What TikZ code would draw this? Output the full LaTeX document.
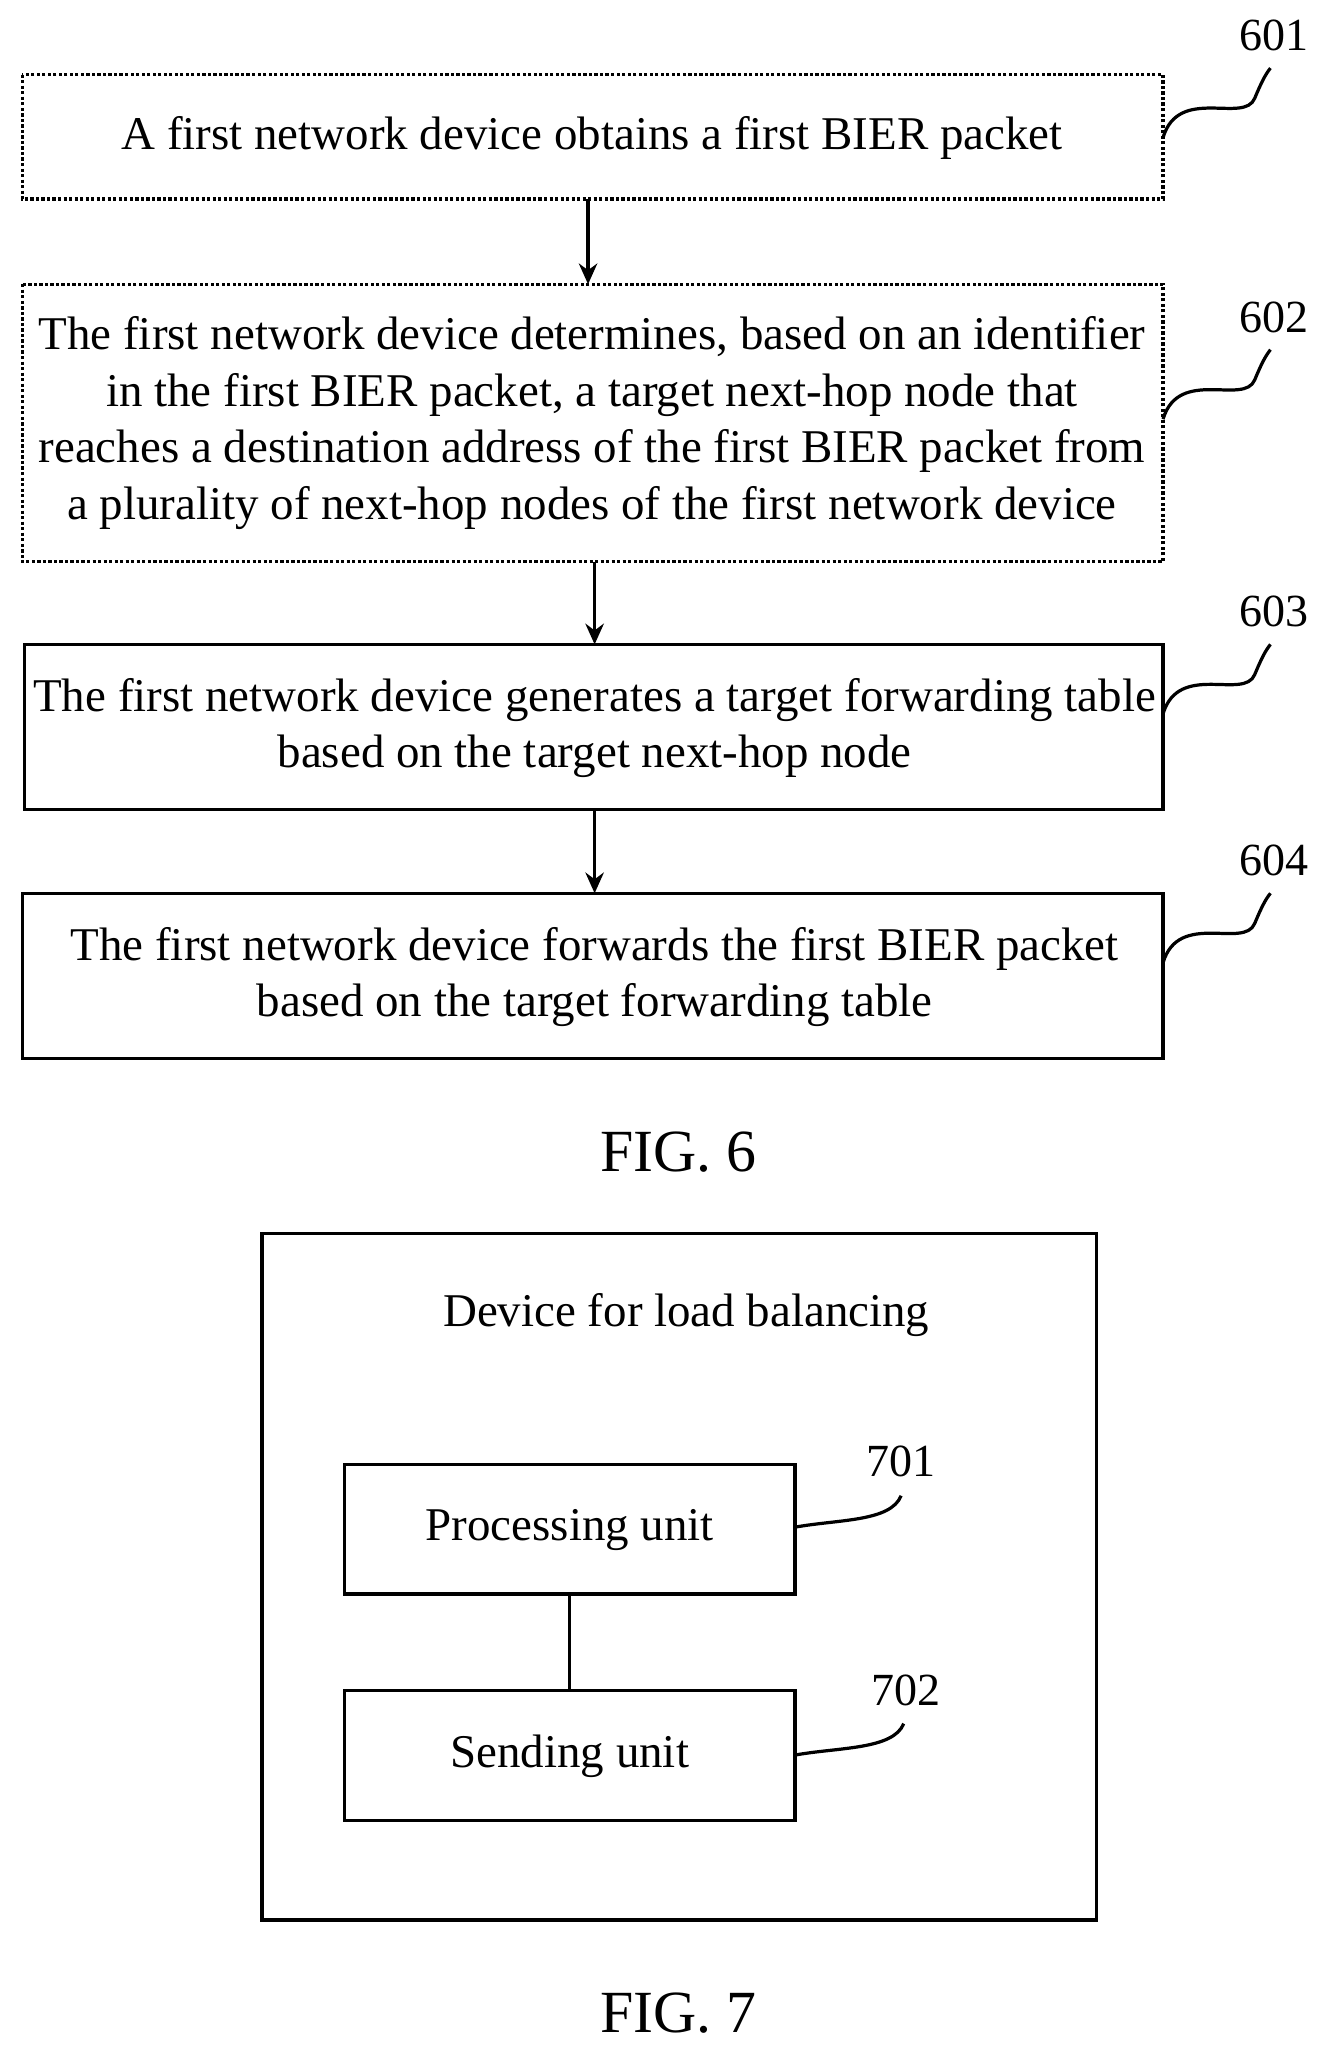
\documentclass[tikz,border=0pt]{standalone}
\usepackage{fontspec}
\setmainfont{Liberation Serif}
\usetikzlibrary{arrows.meta}
\begin{document}
\begin{tikzpicture}[x=0.02cm,y=-0.02cm,
  box/.style={draw,line width=1.4pt},
  dbox/.style={draw,line width=1.4pt,densely dotted},
  txt/.style={font=\fontsize{20.4}{24.5}\selectfont,align=center},
  lab/.style={font=\fontsize{20}{22}\selectfont},
  arr/.style={-{Stealth[length=9pt,width=8pt]},line width=1.4pt},
  sq/.style={line width=1.4pt}]
\useasboundingbox (0,0) rectangle (1024,1582);
\draw[dbox] (17,57) rectangle (888,152);
\node[txt] (t1) at (452,105) {A first network device obtains a first BIER packet};
\draw[dbox] (17,217) rectangle (888,429);
\node[txt] (t2) at (452,323) {The first network device determines, based on an identifier\\in the first BIER packet, a target next-hop node that\\reaches a destination address of the first BIER packet from\\a plurality of next-hop nodes of the first network device};
\draw[box] (19,492) rectangle (888,618);
\node[txt] (t3) at (454,556) {The first network device generates a target forwarding table\\based on the target next-hop node};
\draw[box] (17,682) rectangle (888,808);
\node[txt] (t4) at (454,746) {The first network device forwards the first BIER packet\\based on the target forwarding table};
\coordinate (a1) at (449,152); \coordinate (b1) at (449,217);
\coordinate (a2) at (454,429); \coordinate (b2) at (454,492);
\coordinate (a3) at (454,618); \coordinate (b3) at (454,682);
\draw[arr] (a1)--(b1); \draw[arr] (a2)--(b2); \draw[arr] (a3)--(b3);
\foreach \y/\n in {105/601,320/602,545/603,735/604}{
  \draw[sq] (888,\y) .. controls (900,\y-40) and (950,\y-10) .. (958,\y-30) .. controls (963,\y-42) and (966,\y-48) .. (970,\y-53);
  \node[lab] at (973,\y-78) {\n};
}
\node[font=\fontsize{26}{30}\selectfont] (f6) at (518,880) {FIG. 6};
\draw[box] (200,942) rectangle (837,1466);
\node[txt] (title) at (524,1004) {Device for load balancing};
\draw[box] (263,1118) rectangle (607,1217);
\node[txt] (p) at (435,1168) {Processing unit};
\draw[box] (263,1291) rectangle (607,1390);
\node[txt] (s) at (435,1341) {Sending unit};
\coordinate (pb) at (435,1217); \coordinate (st) at (435,1291);
\draw[line width=1.4pt] (pb)--(st);
\draw[sq] (607,1166) .. controls (640,1160) and (680,1162) .. (688,1142);
\node[lab] at (688,1116) {701};
\draw[sq] (607,1340) .. controls (640,1334) and (682,1336) .. (690,1316);
\node[lab] at (692,1291) {702};
\node[font=\fontsize{26}{30}\selectfont] (f7) at (518,1537) {FIG. 7};
\end{tikzpicture}
\end{document}
